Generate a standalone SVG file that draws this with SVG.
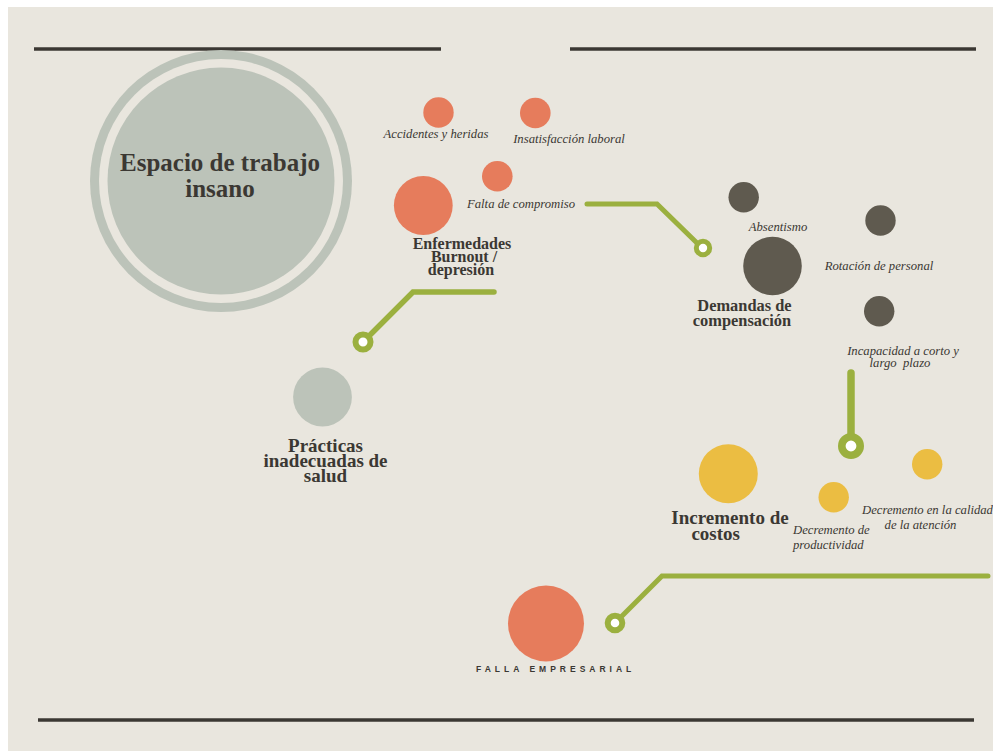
<svg xmlns="http://www.w3.org/2000/svg" width="993" height="751" viewBox="0 0 993 751">
<style>
.bg{fill:#e9e6de}
.sage{fill:#bcc3b9}
.orange{fill:#e67c5c}
.dark{fill:#5f5a4f}
.yellow{fill:#ebbd42}
.rule{stroke:#3b3833;stroke-width:3.5;fill:none;stroke-linecap:butt}
.conn{stroke:#9bb03f;fill:none;stroke-linecap:round;stroke-linejoin:miter}
.ring{stroke:#9bb03f;fill:#ffffff}
.title{font-family:"Liberation Serif",serif;font-weight:bold;fill:#3b3833}
.lbl{font-family:"Liberation Serif",serif;font-style:italic;fill:#3b3833;font-size:12.7px}
.caps{font-family:"Liberation Sans",Arial,sans-serif;font-weight:bold;fill:#3b3833;font-size:8.5px;letter-spacing:4px}
</style>
<rect x="0" y="0" width="993" height="751" fill="#ffffff"/>
<rect class="bg" x="8" y="7" width="985" height="744"/>
<g id="rules">
<line class="rule" x1="34" y1="49" x2="441" y2="49"/>
<line class="rule" x1="570" y1="49" x2="976" y2="49"/>
<line class="rule" x1="38" y1="720" x2="974" y2="720"/>
</g>
<g id="connectors">
<polyline class="conn" stroke-width="5" points="587,204 657,204 697,243"/>
<circle class="ring" cx="703" cy="248" r="6.7" stroke-width="5"/>
<polyline class="conn" stroke-width="5.5" points="494,292 413,292 370,335"/>
<circle class="ring" cx="363" cy="342" r="7.5" stroke-width="6"/>
<line class="conn" stroke-width="7.5" x1="851" y1="373" x2="851" y2="436"/>
<circle class="ring" cx="851" cy="446" r="9.2" stroke-width="7.6"/>
<polyline class="conn" stroke-width="5" points="988,576 662,576 621,617"/>
<circle class="ring" cx="615" cy="623" r="7.3" stroke-width="6"/>
</g>
<g id="espacio">
<circle class="sage" cx="221" cy="181" r="131"/>
<circle class="bg" cx="221" cy="181" r="122"/>
<circle class="sage" cx="221" cy="181" r="113.5"/>
<text class="title" font-size="25" text-anchor="middle" x="220" y="171">Espacio de trabajo</text>
<text class="title" font-size="25" text-anchor="middle" x="220" y="197">insano</text>
</g>
<g id="accidentes">
<circle class="orange" cx="438.5" cy="112.5" r="15.2"/>
<text class="lbl" text-anchor="middle" x="436" y="138">Accidentes  y heridas</text>
</g>
<g id="insatisfaccion">
<circle class="orange" cx="535.3" cy="113" r="15.3"/>
<text class="lbl" text-anchor="middle" x="569" y="143">Insatisfacción laboral</text>
</g>
<g id="falta">
<circle class="orange" cx="497.3" cy="176.3" r="15.3"/>
<text class="lbl" font-size="11px" x="467" y="208">Falta de compromiso</text>
</g>
<g id="enfermedades">
<circle class="orange" cx="423.3" cy="205.5" r="29.4"/>
<text class="title" font-size="16" text-anchor="middle" x="462" y="248.5">Enfermedades</text>
<text class="title" font-size="16" text-anchor="middle" x="464" y="262">Burnout /</text>
<text class="title" font-size="16" text-anchor="middle" x="461" y="275">depresión</text>
</g>
<g id="practicas">
<circle class="sage" cx="322.5" cy="397" r="29.4"/>
<text class="title" font-size="19" text-anchor="middle" x="325.5" y="451.5">Prácticas</text>
<text class="title" font-size="19" text-anchor="middle" x="325.5" y="466.5">inadecuadas de</text>
<text class="title" font-size="19" text-anchor="middle" x="325.5" y="481.5">salud</text>
</g>
<g id="absentismo">
<circle class="dark" cx="743.7" cy="197.3" r="15.2"/>
<text class="lbl" text-anchor="middle" x="778" y="230.5">Absentismo</text>
</g>
<g id="rotacion">
<circle class="dark" cx="880.5" cy="220.5" r="15.2"/>
<text class="lbl" text-anchor="middle" x="879" y="269.5">Rotación de personal</text>
</g>
<g id="demandas">
<circle class="dark" cx="772.5" cy="266" r="29.3"/>
<text class="title" font-size="16.4" text-anchor="middle" x="744.5" y="311">Demandas de</text>
<text class="title" font-size="16.4" text-anchor="middle" x="742" y="325.5">compensación</text>
</g>
<g id="incapacidad">
<circle class="dark" cx="879.2" cy="311.3" r="15.2"/>
<text class="lbl" text-anchor="middle" x="903" y="354.5">Incapacidad a corto y</text>
<text class="lbl" text-anchor="middle" x="900" y="367" xml:space="preserve">largo  plazo</text>
</g>
<g id="incremento">
<circle class="yellow" cx="728.3" cy="473.7" r="29.5"/>
<text class="title" font-size="19" text-anchor="middle" x="730" y="524">Incremento de</text>
<text class="title" font-size="19" text-anchor="middle" x="715.7" y="540">costos</text>
</g>
<g id="productividad">
<circle class="yellow" cx="833.7" cy="497.3" r="15.2"/>
<text class="lbl" x="793" y="534">Decremento de</text>
<text class="lbl" x="793" y="548.5">productividad</text>
</g>
<g id="calidad">
<circle class="yellow" cx="927.2" cy="464.3" r="15.2"/>
<text class="lbl" text-anchor="middle" x="927.5" y="514">Decremento en la calidad</text>
<text class="lbl" text-anchor="middle" x="920.5" y="529">de la atención</text>
</g>
<g id="falla">
<circle class="orange" cx="546" cy="623.5" r="38"/>
<text class="caps" x="476" y="671.5">FALLA EMPRESARIAL</text>
</g>
</svg>
